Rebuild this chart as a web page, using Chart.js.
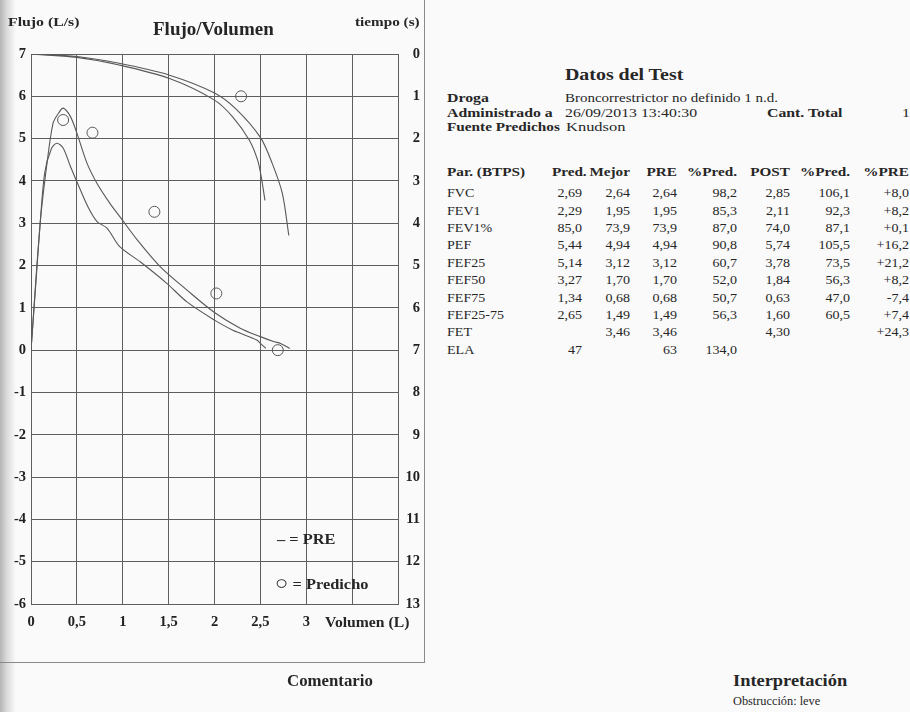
<!DOCTYPE html>
<html>
<head>
<meta charset="utf-8">
<script src="https://cdn.jsdelivr.net/npm/chart.js@4.4.0/dist/chart.umd.min.js"></script>
<style>
body{margin:0;width:910px;height:712px;background:#fafafa;position:relative;overflow:hidden;font-family:"Liberation Serif",serif;color:#262626}
.t{position:absolute;white-space:nowrap;line-height:14px;transform:scaleX(1.17);transform-origin:0 0}
.b{font-weight:bold}
#shade{position:absolute;left:0;top:0;width:16px;height:712px;background:linear-gradient(to right,#b4b4b4,#dcdcdc 45%,rgba(250,250,250,0))}
#box{position:absolute;left:-2px;top:-2px;width:426px;height:664px;border-right:1px solid #8a8a8a;border-bottom:1px solid #8a8a8a}
#wrap{position:absolute;left:0;top:0;width:430px;height:640px}
table{position:absolute;left:447px;top:164px;border-collapse:collapse;table-layout:fixed;font-size:12px;transform:scaleX(1.17);transform-origin:0 0}
td{padding:0;height:17.4px;text-align:right;white-space:nowrap}
td:first-child{text-align:left}
tr.h td{font-weight:bold;font-size:13px;height:21px;vertical-align:top}
</style>
</head>
<body>
<div id="shade"></div>
<div id="box"></div>
<div id="wrap"><canvas id="chart1"></canvas></div>

<div class="t b" style="left:8px;top:15px;font-size:13.5px">Flujo (L/s)</div>
<div class="t b" style="left:153px;top:19px;font-size:19px;line-height:20px;transform:none">Flujo/Volumen</div>
<div class="t b" style="left:355px;top:15px;font-size:13px">tiempo (s)</div>
<div class="t b" style="left:325px;top:616px;font-size:14px;transform:scaleX(1.12)">Volumen (L)</div>
<div class="t b" style="left:277px;top:533px;font-size:14px">&#8211; = PRE</div>
<div class="t b" style="left:275px;top:576px;font-size:14px"><span style="font-size:19px;font-weight:normal;line-height:14px">&#9675;</span> = Predicho</div>

<div class="t b" style="left:565px;top:66px;font-size:17px;line-height:18px">Datos del Test</div>
<div class="t b" style="left:447px;top:91px;font-size:13.5px">Droga</div>
<div class="t" style="left:565px;top:91px;font-size:13.5px;transform:scaleX(1.11)">Broncorrestrictor no definido 1 n.d.</div>
<div class="t b" style="left:447px;top:106px;font-size:13.5px">Administrado a</div>
<div class="t" style="left:565px;top:106px;font-size:13.5px">26/09/2013 13:40:30</div>
<div class="t b" style="left:767px;top:106px;font-size:13.5px">Cant. Total</div>
<div class="t" style="left:902px;top:106px;font-size:13.5px">1</div>
<div class="t b" style="left:447px;top:120px;font-size:13.5px;transform:scaleX(1.13)">Fuente Predichos</div>
<div class="t" style="left:566px;top:120px;font-size:13.5px;transform:scaleX(1.22)">Knudson</div>

<table>
<colgroup><col style="width:81.2px"><col style="width:34.2px"><col style="width:41px"><col style="width:40.2px"><col style="width:51.3px"><col style="width:45.3px"><col style="width:51.3px"><col style="width:50.4px"></colgroup>
<tr class="h"><td>Par. (BTPS)</td><td><span style="position:relative;left:4px">Pred.</span></td><td>Mejor</td><td>PRE</td><td>%Pred.</td><td>POST</td><td>%Pred.</td><td>%PRE</td></tr>
<tr><td>FVC</td><td>2,69</td><td>2,64</td><td>2,64</td><td>98,2</td><td>2,85</td><td>106,1</td><td>+8,0</td></tr>
<tr><td>FEV1</td><td>2,29</td><td>1,95</td><td>1,95</td><td>85,3</td><td>2,11</td><td>92,3</td><td>+8,2</td></tr>
<tr><td>FEV1%</td><td>85,0</td><td>73,9</td><td>73,9</td><td>87,0</td><td>74,0</td><td>87,1</td><td>+0,1</td></tr>
<tr><td>PEF</td><td>5,44</td><td>4,94</td><td>4,94</td><td>90,8</td><td>5,74</td><td>105,5</td><td>+16,2</td></tr>
<tr><td>FEF25</td><td>5,14</td><td>3,12</td><td>3,12</td><td>60,7</td><td>3,78</td><td>73,5</td><td>+21,2</td></tr>
<tr><td>FEF50</td><td>3,27</td><td>1,70</td><td>1,70</td><td>52,0</td><td>1,84</td><td>56,3</td><td>+8,2</td></tr>
<tr><td>FEF75</td><td>1,34</td><td>0,68</td><td>0,68</td><td>50,7</td><td>0,63</td><td>47,0</td><td>-7,4</td></tr>
<tr><td>FEF25-75</td><td>2,65</td><td>1,49</td><td>1,49</td><td>56,3</td><td>1,60</td><td>60,5</td><td>+7,4</td></tr>
<tr><td>FET</td><td></td><td>3,46</td><td>3,46</td><td></td><td>4,30</td><td></td><td>+24,3</td></tr>
<tr><td>ELA</td><td>47</td><td></td><td>63</td><td>134,0</td><td></td><td></td><td></td></tr>
</table>

<div class="t b" style="left:287px;top:672px;font-size:16px;line-height:17px;transform:scaleX(1.05)">Comentario</div>
<div class="t b" style="left:733px;top:672px;font-size:16px;line-height:17px;transform:scaleX(1.15)">Interpretación</div>
<div class="t" style="left:733px;top:694px;font-size:11.5px;transform:scaleX(1.07)">Obstrucción: leve</div>

<script>
// tick labels of the volume axis (3,5 and 4 are left blank in the report)
var xTickLabels = ['0', '0,5', '1', '1,5', '2', '2,5', '3', '', ''];

// flujo/volumen, PRE
var preVol  = [0, 0.05, 0.1, 0.15, 0.22, 0.28, 0.35, 0.43, 0.54, 0.63, 0.72, 0.83, 0.97, 1.19, 1.48, 1.7, 2.0, 2.2, 2.28, 2.46, 2.5, 2.56];
var preFlow = [0, 1.5, 3.0, 4.2, 4.75, 4.89, 4.78, 4.34, 3.78, 3.35, 3.04, 2.88, 2.44, 2.09, 1.58, 1.14, 0.71, 0.47, 0.4, 0.24, 0.16, 0.04];

// flujo/volumen, POST
var postVol  = [0, 0.1, 0.17, 0.24, 0.3, 0.35, 0.43, 0.5, 0.61, 0.72, 0.86, 0.97, 1.16, 1.41, 1.7, 2.0, 2.28, 2.5, 2.65, 2.72, 2.82];
var postFlow = [0, 3.0, 4.34, 5.36, 5.6, 5.72, 5.52, 5.13, 4.42, 3.94, 3.47, 3.15, 2.6, 1.97, 1.42, 0.89, 0.52, 0.32, 0.2, 0.16, 0.04];

// volumen/tiempo, PRE and POST
var preVtVol   = [0, 0.5, 0.96, 1.51, 2.0, 2.2, 2.38, 2.47, 2.51, 2.55];
var preVtTime  = [0, 0.08, 0.26, 0.58, 1.09, 1.49, 2.04, 2.51, 2.91, 3.46];
var postVtVol  = [0, 0.5, 0.96, 1.51, 2.0, 2.23, 2.5, 2.63, 2.74, 2.81];
var postVtTime = [0, 0.06, 0.22, 0.5, 0.92, 1.29, 1.97, 2.59, 3.3, 4.29];

// predichos
var predVol  = [0.35, 0.67, 1.345, 2.02, 2.69];
var predFlow = [5.44, 5.14, 3.27, 1.34, 0];
var predFev1Vol  = [2.29];
var predFev1Time = [1];

function pts(xs, ys) {
  return xs.map(function(x, i) { return {x: x, y: ys[i]}; });
}

var ink = '#585858';
var gridInk = '#5e5e5e';
var tickFont = {family: 'Liberation Serif', size: 14.5, weight: 'bold'};

function curve(data, axis) {
  return {data: data, yAxisID: axis, showLine: true, borderColor: ink, borderWidth: 1.1,
    pointRadius: 0, tension: 0.3, fill: false};
}
function circles(data, axis) {
  return {data: data, yAxisID: axis, showLine: false, pointStyle: 'circle', pointRadius: 5.5,
    borderColor: ink, borderWidth: 1, backgroundColor: 'rgba(0,0,0,0)'};
}

new Chart(document.getElementById('chart1'), {
  type: 'scatter',
  data: {
    datasets: [
      curve(pts(preVol, preFlow), 'y'),
      curve(pts(postVol, postFlow), 'y'),
      curve(pts(preVtVol, preVtTime), 'y2'),
      curve(pts(postVtVol, postVtTime), 'y2'),
      circles(pts(predVol, predFlow), 'y'),
      circles(pts(predFev1Vol, predFev1Time), 'y2')
    ]
  },
  options: {
    responsive: true,
    maintainAspectRatio: false,
    animation: false,
    layout: {padding: {top: 54, right: 10, left: 0, bottom: 0}},
    plugins: {legend: {display: false}, tooltip: {enabled: false}},
    scales: {
      x: {
        type: 'linear', min: 0, max: 4,
        grid: {color: gridInk, lineWidth: 1, drawTicks: false},
        border: {color: gridInk},
        ticks: {stepSize: 0.5, padding: 10, color: '#222', font: tickFont, maxRotation: 0, autoSkip: false,
          callback: function(v, i) { return xTickLabels[i]; }},
        afterFit: function(s) { s.height = 36; }
      },
      y: {
        type: 'linear', position: 'left', min: -6, max: 7,
        grid: {color: gridInk, lineWidth: 1, drawTicks: false},
        border: {color: gridInk},
        ticks: {stepSize: 1, padding: 5, color: '#222', font: tickFont},
        afterFit: function(s) { s.width = 31; }
      },
      y2: {
        type: 'linear', position: 'right', min: 0, max: 13, reverse: true,
        grid: {display: false, drawTicks: false},
        border: {display: false},
        ticks: {stepSize: 1, crossAlign: 'far', color: '#222', font: tickFont},
        afterFit: function(s) { s.width = 22; }
      }
    }
  }
});
</script>
</body>
</html>
